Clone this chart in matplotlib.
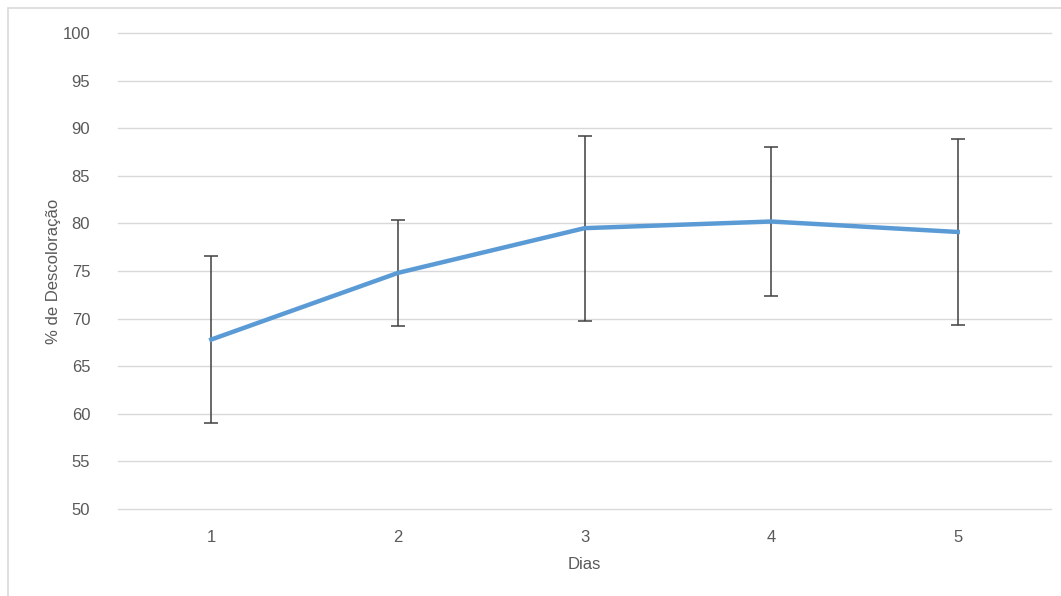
import matplotlib.pyplot as plt
from matplotlib.patches import Rectangle

plt.rcParams['font.family'] = ['Liberation Sans', 'DejaVu Sans']

dias = [1, 2, 3, 4, 5]
descoloracao = [67.8, 74.8, 79.5, 80.2, 79.1]
erro = [8.8, 5.6, 9.7, 7.8, 9.8]
yticks = list(range(50, 101, 5))

fig = plt.figure(figsize=(10.61, 5.96), dpi=100)
ax = fig.add_axes([0.1112, 0.146, 0.8794, 0.7986])

# outer chart border (cut off at right and bottom)
fig.patches.append(Rectangle((8 / 1061, -0.05), 1.1, 1 - 8 / 596 + 0.05,
                             transform=fig.transFigure, fill=False,
                             edgecolor='#d9d9d9', lw=1.2))

ax.errorbar(dias, descoloracao, yerr=erro, color='#5b9bd5', lw=3.2,
            ecolor='#404040', elinewidth=1.1, capsize=5, capthick=1.1, zorder=3)

ax.set_xlim(0.5, 5.5)
ax.set_ylim(50, 100)
ax.set_yticks(yticks)
ax.set_xticks(dias)
ax.yaxis.grid(True, color='#d9d9d9', lw=1)
for gl in ax.get_ygridlines():
    gl.set_clip_on(False)
ax.set_axisbelow(True)
for s in ax.spines.values():
    s.set_visible(False)
ax.tick_params(length=0, labelsize=12, labelcolor='#595959')
ax.tick_params(axis='y', pad=20)
ax.tick_params(axis='x', pad=15)

ax.set_xlabel('Dias', fontsize=12, color='#595959', labelpad=9)
ax.set_ylabel('% de Descoloração', fontsize=12, color='#595959', labelpad=1)

fig.savefig('out.png', dpi=100)
